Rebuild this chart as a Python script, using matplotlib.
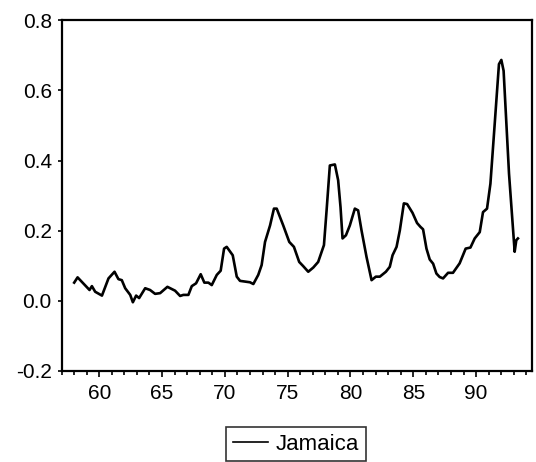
import matplotlib
matplotlib.use("Agg")
import matplotlib.pyplot as plt
from matplotlib.ticker import MultipleLocator, FixedLocator, FuncFormatter

plt.rcParams['font.family'] = ['Liberation Sans', 'DejaVu Sans']
plt.rcParams['axes.unicode_minus'] = False

series_name = "Jamaica"

years = [58.01, 58.28, 59.02, 59.23, 59.42, 59.68, 60.22, 60.74, 61.22, 61.53,
         61.80, 62.07, 62.47, 62.68, 62.94, 63.18, 63.66, 64.05, 64.45, 64.85,
         65.43, 66.04, 66.44, 66.70, 67.10, 67.37, 67.71, 68.08, 68.37, 68.69,
         68.96, 69.36, 69.67, 69.94, 70.15, 70.63, 70.95, 71.21, 72.00, 72.27,
         72.66, 72.93, 73.20, 73.60, 73.91, 74.13, 74.65, 75.13, 75.50, 75.92,
         76.24, 76.64, 77.04, 77.43, 77.89, 78.10, 78.36, 78.76, 79.02, 79.21,
         79.37, 79.64, 79.95, 80.35, 80.61, 80.88, 81.28, 81.68, 82.02, 82.34,
         82.82, 83.13, 83.35, 83.67, 83.93, 84.25, 84.51, 84.94, 85.30, 85.57,
         85.78, 86.05, 86.31, 86.58, 86.84, 87.10, 87.37, 87.77, 88.16, 88.69,
         89.17, 89.55, 89.89, 90.29, 90.55, 90.87, 91.14, 91.48, 91.82, 92.01,
         92.19, 92.62, 93.07, 93.20, 93.33]

values = [0.052, 0.067, 0.039, 0.031, 0.042, 0.026, 0.015, 0.064, 0.083, 0.062,
          0.059, 0.036, 0.017, -0.004, 0.015, 0.008, 0.036, 0.031, 0.020, 0.022,
          0.040, 0.029, 0.014, 0.017, 0.017, 0.042, 0.050, 0.076, 0.052, 0.052,
          0.045, 0.074, 0.086, 0.149, 0.154, 0.130, 0.069, 0.057, 0.053, 0.048,
          0.074, 0.102, 0.168, 0.215, 0.263, 0.263, 0.215, 0.168, 0.154, 0.111,
          0.099, 0.083, 0.095, 0.111, 0.159, 0.258, 0.386, 0.389, 0.344, 0.267,
          0.178, 0.187, 0.215, 0.263, 0.258, 0.201, 0.125, 0.059, 0.069, 0.069,
          0.083, 0.097, 0.130, 0.154, 0.201, 0.278, 0.276, 0.251, 0.222, 0.211,
          0.204, 0.149, 0.118, 0.106, 0.078, 0.068, 0.064, 0.080, 0.080, 0.107,
          0.149, 0.152, 0.178, 0.196, 0.253, 0.263, 0.334, 0.504, 0.675, 0.687,
          0.656, 0.363, 0.140, 0.173, 0.178]

y_ticks = [-0.2, 0.0, 0.2, 0.4, 0.6, 0.8]
x_major = [60, 65, 70, 75, 80, 85, 90]
x_minor = list(range(57, 95))

fig = plt.figure(figsize=(5.36, 4.62), dpi=100)
ax = fig.add_axes([61.5/536, 1 - 371/462, (532 - 61.5)/536, (371 - 20.3)/462])

ax.plot(years, values, color='black', lw=1.9, label=series_name)

ax.set_xlim(57.0, 94.45)
ax.set_ylim(-0.2, 0.8)
ax.yaxis.set_major_locator(FixedLocator(y_ticks))
ax.yaxis.set_major_formatter(FuncFormatter(lambda v, p: f"{v:.1f}"))
ax.xaxis.set_major_locator(FixedLocator(x_major))
ax.xaxis.set_minor_locator(FixedLocator(x_minor))
ax.xaxis.set_major_formatter(FuncFormatter(lambda v, p: f"{int(round(v))}"))

for s in ax.spines.values():
    s.set_linewidth(1.6)
    s.set_color('black')

ax.tick_params(axis='y', which='major', direction='out', length=3, width=1.2,
               labelsize=15, pad=4, right=False)
ax.tick_params(axis='x', which='major', direction='out', length=4.5, width=1.2,
               labelsize=15, pad=5, top=False)
ax.tick_params(axis='x', which='minor', direction='out', length=3, width=1.2, top=False)

leg = fig.legend(loc='center', bbox_to_anchor=(296/536, 1 - 444/462),
                 frameon=True, fancybox=False, fontsize=16,
                 handlelength=1.6, handletextpad=0.35, borderpad=0.3,
                 borderaxespad=0)
leg.get_frame().set_edgecolor('black')
leg.get_frame().set_linewidth(1.2)
for l in leg.get_lines():
    l.set_linewidth(1.2)

fig.savefig("out.png", dpi=100)
